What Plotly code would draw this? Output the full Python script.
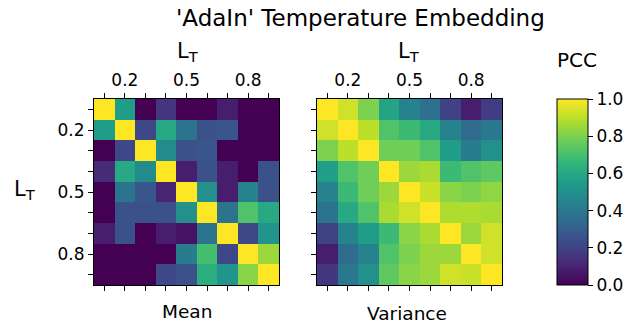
import plotly.graph_objects as go

# Temperature levels along both axes
lt_values = [0.1, 0.2, 0.3, 0.4, 0.5, 0.6, 0.7, 0.8, 0.9]
label_values = [0.2, 0.5, 0.8]
label_text = ["0.2", "0.5", "0.8"]

# Pearson correlation between temperature embeddings (mean statistic)
pcc_mean = [
    [1.00, 0.55, 0.00, 0.15, 0.00, 0.00, 0.08, 0.00, 0.00],
    [0.55, 1.00, 0.22, 0.60, 0.38, 0.25, 0.27, 0.00, 0.00],
    [0.00, 0.22, 1.00, 0.48, 0.25, 0.27, 0.00, 0.00, 0.00],
    [0.12, 0.60, 0.48, 1.00, 0.08, 0.25, 0.08, 0.00, 0.25],
    [0.00, 0.38, 0.27, 0.10, 1.00, 0.50, 0.08, 0.45, 0.25],
    [0.00, 0.25, 0.25, 0.25, 0.50, 1.00, 0.38, 0.72, 0.60],
    [0.08, 0.25, 0.00, 0.08, 0.05, 0.38, 1.00, 0.22, 0.52],
    [0.00, 0.00, 0.00, 0.00, 0.42, 0.70, 0.22, 1.00, 0.85],
    [0.00, 0.00, 0.00, 0.22, 0.25, 0.62, 0.52, 0.82, 1.00],
]

# Pearson correlation between temperature embeddings (variance statistic)
pcc_var = [
    [1.00, 0.93, 0.80, 0.58, 0.45, 0.37, 0.20, 0.08, 0.18],
    [0.93, 1.00, 0.90, 0.72, 0.68, 0.60, 0.45, 0.35, 0.40],
    [0.80, 0.90, 1.00, 0.78, 0.78, 0.72, 0.55, 0.42, 0.50],
    [0.56, 0.72, 0.78, 1.00, 0.85, 0.87, 0.68, 0.72, 0.75],
    [0.45, 0.68, 0.78, 0.85, 1.00, 0.92, 0.82, 0.80, 0.83],
    [0.38, 0.60, 0.72, 0.87, 0.93, 1.00, 0.88, 0.88, 0.87],
    [0.20, 0.45, 0.55, 0.68, 0.82, 0.87, 1.00, 0.85, 0.93],
    [0.08, 0.35, 0.45, 0.72, 0.80, 0.85, 0.85, 1.00, 0.93],
    [0.16, 0.40, 0.50, 0.75, 0.82, 0.85, 0.93, 0.92, 1.00],
]

W, H = 625, 325
FONT = "DejaVu Sans"


def px_x(p):
    return p / W


def px_y(p):
    return 1 - p / H


fig = go.Figure()

fig.add_trace(go.Heatmap(
    z=pcc_mean, x=lt_values, y=lt_values, xaxis="x", yaxis="y",
    colorscale="Viridis", zmin=0, zmax=1, showscale=False,
))
fig.add_trace(go.Heatmap(
    z=pcc_var, x=lt_values, y=lt_values, xaxis="x2", yaxis="y2",
    colorscale="Viridis", zmin=0, zmax=1,
    colorbar=dict(
        x=px_x(557), xanchor="left", xpad=0, ypad=0, thickness=31,
        y=px_y(285), yanchor="bottom", len=186 / H, lenmode="fraction",
        outlinewidth=1, outlinecolor="black",
        tickvals=[0, 0.2, 0.4, 0.6, 0.8, 1.0],
        ticktext=["0.0", "0.2", "0.4", "0.6", "0.8", "1.0"],
        ticks="outside", ticklen=5, tickcolor="black",
        tickfont=dict(family=FONT, size=17, color="black"),
    ),
))

rng = [0.05, 0.95]
minor_ticks = dict(tickvals=lt_values, ticks="outside", ticklen=5,
                   tickcolor="black", showgrid=False)
common_x = dict(
    range=rng, tickvals=label_values, ticktext=label_text,
    ticks="outside", ticklen=5, tickcolor="black", minor=minor_ticks,
    showline=True, linecolor="black", linewidth=1, mirror=True,
    showgrid=False, zeroline=False,
    tickfont=dict(family=FONT, size=17, color="black"),
)
bottom_x = dict(
    range=rng, tickvals=lt_values, ticks="outside", ticklen=5,
    tickcolor="black", showticklabels=False, showgrid=False,
    zeroline=False, showline=False,
)
common_y = dict(
    range=[0.95, 0.05], tickvals=label_values, ticktext=label_text,
    ticks="outside", ticklen=5, tickcolor="black", minor=minor_ticks,
    showline=True, linecolor="black", linewidth=1, mirror=True,
    showgrid=False, zeroline=False,
    tickfont=dict(family=FONT, size=17, color="black"),
    domain=[px_y(285), px_y(99)],
)

fig.update_layout(
    width=W, height=H, autosize=False,
    margin=dict(l=0, r=0, t=0, b=0),
    paper_bgcolor="white", plot_bgcolor="white",
    font=dict(family=FONT, color="black"),
    xaxis=dict(common_x, domain=[px_x(94), px_x(279)], side="top", anchor="y"),
    xaxis2=dict(common_x, domain=[px_x(317), px_x(502)], side="top", anchor="y2"),
    xaxis3=dict(bottom_x, overlaying="x", side="bottom", anchor="y"),
    xaxis4=dict(bottom_x, overlaying="x2", side="bottom", anchor="y2"),
    yaxis=dict(common_y, anchor="x"),
    yaxis2=dict(common_y, anchor="x2", showticklabels=False),
)

# empty traces so the bottom tick axes are drawn
fig.add_trace(go.Scatter(x=[None], y=[None], xaxis="x3", yaxis="y",
                         showlegend=False, hoverinfo="skip"))
fig.add_trace(go.Scatter(x=[None], y=[None], xaxis="x4", yaxis="y2",
                         showlegend=False, hoverinfo="skip"))

annotations = [
    dict(text="'AdaIn' Temperature Embedding", x=px_x(360), y=px_y(18), size=23),
    dict(text="L<sub>T</sub>", x=px_x(188), y=px_y(52), size=21),
    dict(text="L<sub>T</sub>", x=px_x(409), y=px_y(52), size=21),
    dict(text="L<sub>T</sub>", x=px_x(25), y=px_y(190), size=21),
    dict(text="PCC", x=px_x(577), y=px_y(60), size=20),
    dict(text="Mean", x=px_x(187), y=px_y(311), size=18.5),
    dict(text="Variance", x=px_x(407), y=px_y(313), size=18.5),
]
fig.update_layout(annotations=[
    dict(text=a["text"], x=a["x"], y=a["y"], xref="paper", yref="paper",
         showarrow=False, xanchor="center", yanchor="middle",
         font=dict(family=FONT, size=a["size"], color="black"))
    for a in annotations
])

fig.write_html("out.html", config={"responsive": False})
